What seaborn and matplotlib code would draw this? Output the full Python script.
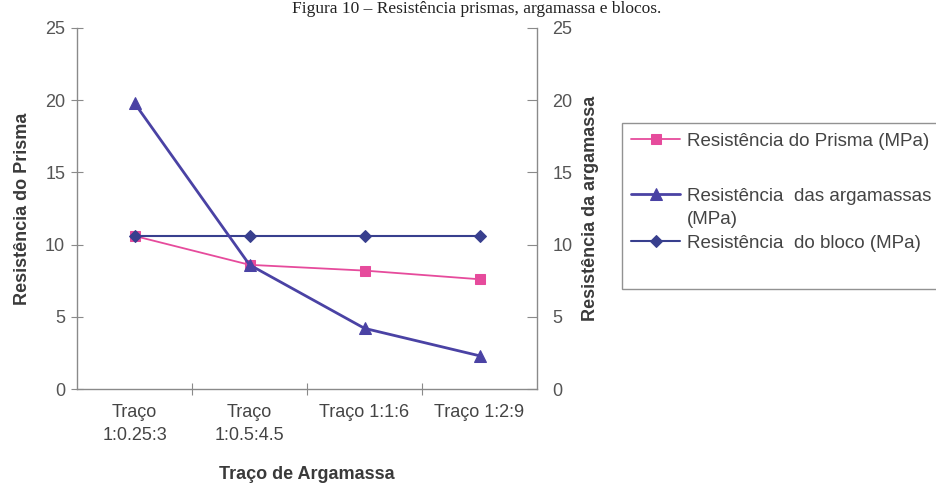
import matplotlib
matplotlib.use("Agg")
import matplotlib.pyplot as plt
import seaborn as sns
import pandas as pd
from matplotlib.ticker import FixedLocator
from matplotlib.lines import Line2D

categories = ["Traço\n1:0.25:3", "Traço\n1:0.5:4.5", "Traço 1:1:6", "Traço 1:2:9"]
prisma = [10.6, 8.6, 8.2, 7.6]
argamassa = [19.8, 8.6, 4.2, 2.3]
bloco = [10.6, 10.6, 10.6, 10.6]

lab_prisma = "Resistência do Prisma (MPa)"
lab_arg = "Resistência  das argamassas"
lab_arg2 = "(MPa)"
lab_bloco = "Resistência  do bloco (MPa)"

sns.set_style("white")
plt.rcParams['font.family'] = ['Liberation Sans', 'DejaVu Sans']

df = pd.DataFrame({"cat": categories, "prisma": prisma, "arg": argamassa, "bloco": bloco})

fig = plt.figure(figsize=(9.36, 4.87), dpi=100)
ax = fig.add_axes([77/936, 1-389/487, (537-77)/936, (389-28)/487])
ax2 = ax.twinx()

pink = "#e64b9c"
tri_c = "#4a42a4"
dia_c = "#383f8e"

sns.lineplot(data=df, x="cat", y="prisma", ax=ax, color=pink, marker="s", markersize=7,
             markeredgecolor=pink, linewidth=1.3, label=lab_prisma, legend=False, sort=False)
sns.lineplot(data=df, x="cat", y="bloco", ax=ax, color=dia_c, marker="D", markersize=6.5,
             markeredgecolor=dia_c, linewidth=1.5, label=lab_bloco, legend=False, sort=False)
sns.lineplot(data=df, x="cat", y="arg", ax=ax2, color=tri_c, marker="^", markersize=8.5,
             markeredgecolor=tri_c, linewidth=2.0, label=lab_arg, legend=False, sort=False)

for a in (ax, ax2):
    a.set_ylim(0, 25)
    a.set_yticks([0, 5, 10, 15, 20, 25])
    a.set_xlim(-0.5, 3.5)
    a.set_facecolor("none")
    a.set_xlabel("")

txt = "#3a3a3a"
ax.set_ylabel("Resistência do Prisma", fontsize=13, fontweight="bold", color=txt, labelpad=10)
ax2.set_ylabel("Resistência da argamassa", fontsize=13, fontweight="bold", color=txt, labelpad=7)
ax.set_xlabel("Traço de Argamassa", fontsize=13, fontweight="bold", color=txt, labelpad=16)

grey = "#8a8a8a"
for a in (ax, ax2):
    for s in a.spines.values():
        s.set_color(grey)
        s.set_linewidth(1.0)
    a.spines["top"].set_visible(False)
ax.spines["right"].set_visible(False)
ax2.spines["left"].set_visible(False)
ax2.spines["bottom"].set_visible(False)

ax.tick_params(axis="y", direction="inout", length=9, width=0.8, color=grey, labelsize=13,
               labelcolor="#555555", pad=4, left=True)
ax2.tick_params(axis="y", direction="in", length=7, width=0.8, color=grey, labelsize=13,
                labelcolor="#555555", pad=11, right=True)
ax.tick_params(axis="x", which="major", length=0, labelsize=13, labelcolor="#444444", pad=11)
for t in ax.get_xticklabels():
    t.set_linespacing(1.45)
ax.xaxis.set_minor_locator(FixedLocator([0.5, 1.5, 2.5]))
ax.tick_params(axis="x", which="minor", direction="inout", length=8, width=0.8, color=grey, bottom=True)

h1, l1 = ax.get_legend_handles_labels()
h2, l2 = ax2.get_legend_handles_labels()
blank = Line2D([], [], linestyle="none")
handles = [h1[0], blank, h2[0], blank, h1[1], blank]
labels = [l1[0], " ", l2[0], lab_arg2, l1[1], " "]
leg = fig.legend(handles, labels, loc="upper left", bbox_to_anchor=(622/936, 1-123/487),
                 frameon=True, fontsize=13.5, labelspacing=0.33, handlelength=2.6,
                 handletextpad=0.35, borderpad=0.5, borderaxespad=0, fancybox=False,
                 edgecolor="#777777", labelcolor="#444444")
leg.get_frame().set_linewidth(1.0)
lt = leg.get_texts()
lt[1].set_fontsize(20.5)
lt[5].set_fontsize(17.5)

fig.text(477/936, 1-1/487, "Figura 10 – Resistência prismas, argamassa e blocos.",
         ha="center", va="top", fontsize=12.5, family=["Liberation Serif", "DejaVu Serif"],
         color="#222222")

fig.savefig("out.png", dpi=100)
